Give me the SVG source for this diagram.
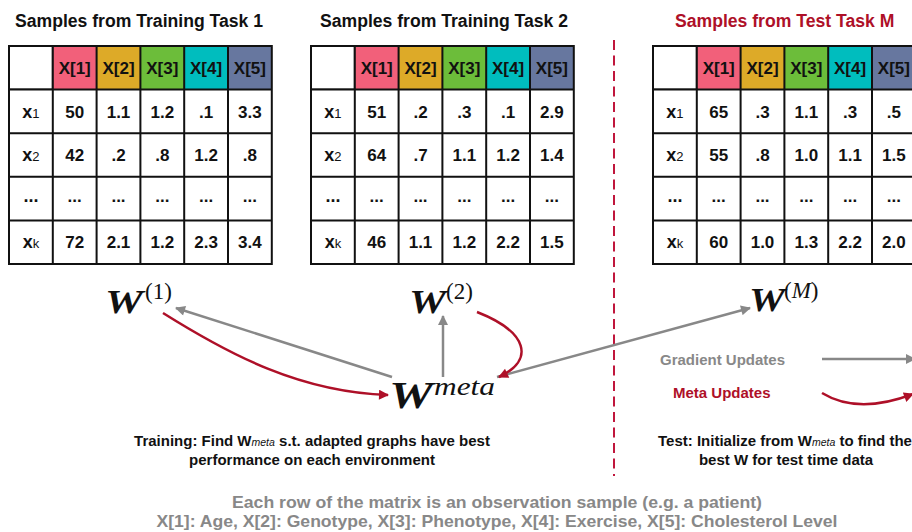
<svg xmlns="http://www.w3.org/2000/svg" width="912" height="532" viewBox="0 0 912 532">
<defs>
<style>
.t{font-family:"Liberation Sans",Arial,sans-serif;font-weight:bold;}
.title{font-size:17.6px;fill:#111;}
.cell{fill:#fff;stroke:#111;stroke-width:2;}
.h{stroke:#111;stroke-width:2;}
.v{font-family:"Liberation Sans",Arial,sans-serif;font-weight:bold;font-size:17px;fill:#111;text-anchor:middle;}
.rl{font-family:"Liberation Sans",Arial,sans-serif;font-weight:bold;font-size:18px;fill:#111;text-anchor:middle;}
.c1{fill:#F2607A;}.c2{fill:#DDAA28;}.c3{fill:#6CBD3A;}.c4{fill:#00BDBE;}.c5{fill:#67779F;}
.wm{font-family:"Liberation Serif","Times New Roman",serif;font-weight:bold;font-style:italic;fill:#111;}
.sup{font-family:"Liberation Serif","Times New Roman",serif;fill:#111;}
.gray{stroke:#888;stroke-width:2.5;fill:none;}
.red{stroke:#AE1028;stroke-width:2.5;fill:none;}
.cap{font-family:"Liberation Sans",Arial,sans-serif;font-weight:bold;font-size:15px;fill:#111;text-anchor:middle;}
.sub{font-weight:normal;font-style:italic;font-size:10.5px;}
.foot{font-family:"Liberation Sans",Arial,sans-serif;font-weight:bold;font-size:17px;fill:#888;text-anchor:middle;}
</style>
<marker id="ag" viewBox="0 0 10 10" refX="9" refY="5" markerWidth="12" markerHeight="10" markerUnits="userSpaceOnUse" orient="auto"><path d="M0,0L10,5L0,10z" fill="#888"/></marker>
<marker id="ar" viewBox="0 0 10 10" refX="9" refY="5" markerWidth="13" markerHeight="10" markerUnits="userSpaceOnUse" orient="auto"><path d="M0,0L10,5L0,10z" fill="#AE1028"/></marker>
<g id="grid">
<rect class="cell" x="0" y="0" width="43.8" height="43.6"/>
<rect class="c1" x="43.8" y="0" width="43.8" height="43.6"/>
<rect class="c2" x="87.6" y="0" width="43.8" height="43.6"/>
<rect class="c3" x="131.4" y="0" width="43.8" height="43.6"/>
<rect class="c4" x="175.2" y="0" width="43.8" height="43.6"/>
<rect class="c5" x="219" y="0" width="43.8" height="43.6"/>
<rect x="0" y="43.6" width="262.8" height="174.4" fill="#fff"/>
<path class="h" fill="none" d="M0,0H262.8V218H0Z M43.8,0V218 M87.6,0V218 M131.4,0V218 M175.2,0V218 M219,0V218 M0,43.6H262.8 M0,87.2H262.8 M0,130.8H262.8 M0,174.4H262.8"/>
<g class="v"><text x="65.7" y="28">X[1]</text><text x="109.5" y="28">X[2]</text><text x="153.3" y="28">X[3]</text><text x="197.1" y="28">X[4]</text><text x="240.9" y="28">X[5]</text></g>
<g class="rl"><text x="21.9" y="71.5">x<tspan font-size="13" font-weight="normal">1</tspan></text><text x="21.9" y="115">x<tspan font-size="13" font-weight="normal">2</tspan></text><text x="21.9" y="156">...</text><text x="21.9" y="202">x<tspan font-size="13" font-weight="normal">k</tspan></text></g>
</g>
</defs>

<g id="task1">
<text class="t title" x="15" y="27">Samples from Training Task 1</text>
<use href="#grid" x="9" y="46"/>
<g class="v">
<text x="74.7" y="118">50</text><text x="118.5" y="118">1.1</text><text x="162.3" y="118">1.2</text><text x="206.1" y="118">.1</text><text x="249.9" y="118">3.3</text>
<text x="74.7" y="161">42</text><text x="118.5" y="161">.2</text><text x="162.3" y="161">.8</text><text x="206.1" y="161">1.2</text><text x="249.9" y="161">.8</text>
<text x="74.7" y="202">...</text><text x="118.5" y="202">...</text><text x="162.3" y="202">...</text><text x="206.1" y="202">...</text><text x="249.9" y="202">...</text>
<text x="74.7" y="248">72</text><text x="118.5" y="248">2.1</text><text x="162.3" y="248">1.2</text><text x="206.1" y="248">2.3</text><text x="249.9" y="248">3.4</text>
</g>
</g>

<g id="task2">
<text class="t title" x="320" y="27">Samples from Training Task 2</text>
<use href="#grid" x="311" y="46"/>
<g class="v">
<text x="376.7" y="118">51</text><text x="420.5" y="118">.2</text><text x="464.3" y="118">.3</text><text x="508.1" y="118">.1</text><text x="551.9" y="118">2.9</text>
<text x="376.7" y="161">64</text><text x="420.5" y="161">.7</text><text x="464.3" y="161">1.1</text><text x="508.1" y="161">1.2</text><text x="551.9" y="161">1.4</text>
<text x="376.7" y="202">...</text><text x="420.5" y="202">...</text><text x="464.3" y="202">...</text><text x="508.1" y="202">...</text><text x="551.9" y="202">...</text>
<text x="376.7" y="248">46</text><text x="420.5" y="248">1.1</text><text x="464.3" y="248">1.2</text><text x="508.1" y="248">2.2</text><text x="551.9" y="248">1.5</text>
</g>
</g>

<g id="taskM">
<text class="t title" x="675" y="27" style="fill:#AE1028">Samples from Test Task M</text>
<use href="#grid" x="653" y="46"/>
<g class="v">
<text x="718.7" y="118">65</text><text x="762.5" y="118">.3</text><text x="806.3" y="118">1.1</text><text x="850.1" y="118">.3</text><text x="893.9" y="118">.5</text>
<text x="718.7" y="161">55</text><text x="762.5" y="161">.8</text><text x="806.3" y="161">1.0</text><text x="850.1" y="161">1.1</text><text x="893.9" y="161">1.5</text>
<text x="718.7" y="202">...</text><text x="762.5" y="202">...</text><text x="806.3" y="202">...</text><text x="850.1" y="202">...</text><text x="893.9" y="202">...</text>
<text x="718.7" y="248">60</text><text x="762.5" y="248">1.0</text><text x="806.3" y="248">1.3</text><text x="850.1" y="248">2.2</text><text x="893.9" y="248">2.0</text>
</g>
</g>

<line id="divider" x1="614" y1="40" x2="614" y2="476" stroke="#C0163C" stroke-width="2" stroke-dasharray="10,5.5"/>

<g id="w1"><text class="wm" x="105" y="313" font-size="34" textLength="38" lengthAdjust="spacingAndGlyphs">W</text><text class="sup" x="145" y="299" font-size="23">(1)</text></g>
<g id="w2"><text class="wm" x="409" y="313" font-size="34" textLength="37" lengthAdjust="spacingAndGlyphs">W</text><text class="sup" x="446" y="299" font-size="23">(2)</text></g>
<g id="wM"><text class="wm" x="749" y="311" font-size="34" textLength="36" lengthAdjust="spacingAndGlyphs">W</text><text class="sup" x="784" y="298" font-size="23">(<tspan font-style="italic">M</tspan>)</text></g>
<g id="wmeta"><text class="wm" x="389" y="408" font-size="38" textLength="44" lengthAdjust="spacingAndGlyphs">W</text><text class="sup" x="434" y="395" font-size="25" font-style="italic" textLength="61" lengthAdjust="spacingAndGlyphs">meta</text></g>

<g id="connectors">
<line class="gray" x1="392" y1="377" x2="176" y2="308" marker-end="url(#ag)"/>
<line class="gray" x1="443" y1="377" x2="443" y2="316" marker-end="url(#ag)"/>
<line class="gray" x1="497" y1="377" x2="750" y2="308" marker-end="url(#ag)"/>
<path class="red" d="M163,313 C230,355 300,392 388,395" marker-end="url(#ar)"/>
<path class="red" d="M477,312 C528,332 535,360 499,377" marker-end="url(#ar)"/>
<line class="gray" x1="822" y1="359" x2="915" y2="359" marker-end="url(#ag)"/>
<path class="red" d="M822,393 Q858,415 913,394" marker-end="url(#ar)"/>
</g>

<g id="legend">
<text class="t" x="660" y="365" font-size="15" fill="#888">Gradient Updates</text>
<text class="t" x="673" y="398" font-size="15" fill="#AE1028">Meta Updates</text>
</g>

<g id="captions">
<text class="cap" x="312" y="446">Training: Find W<tspan class="sub">meta</tspan> s.t. adapted graphs have best</text>
<text class="cap" x="312" y="465">performance on each environment</text>
<text class="cap" x="658" y="446" style="text-anchor:start">Test: Initialize from W<tspan class="sub">meta</tspan> to find the</text>
<text class="cap" x="786" y="465">best W for test time data</text>
<text class="foot" x="497" y="508" textLength="530" lengthAdjust="spacingAndGlyphs">Each row of the matrix is an observation sample (e.g. a patient)</text>
<text class="foot" x="497" y="527" textLength="681" lengthAdjust="spacingAndGlyphs">X[1]: Age, X[2]: Genotype, X[3]: Phenotype, X[4]: Exercise, X[5]: Cholesterol Level</text>
</g>
</svg>
